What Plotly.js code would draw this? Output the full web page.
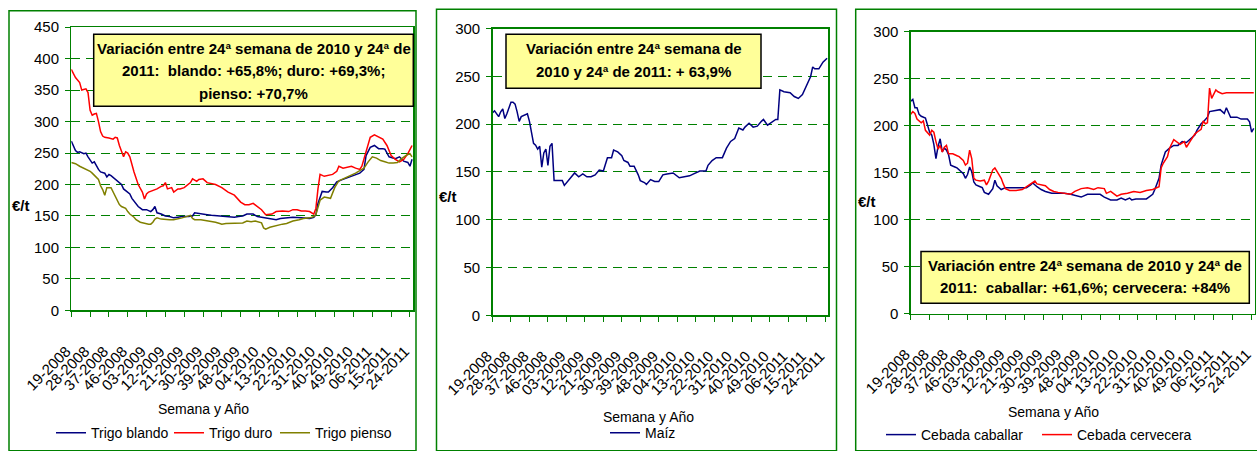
<!DOCTYPE html>
<html><head><meta charset="utf-8">
<script src="https://cdn.plot.ly/plotly-3.0.1.min.js"></script>
<style>html,body{margin:0;padding:0;background:#fff;overflow:hidden}#chart{width:1257px;height:451px}</style>
</head><body><div id="chart"></div>
<script>
// ---- tick labels (week-year), one every 9 weeks, week index counted from 19-2008 ----
const tickWeeks = [0,9,18,27,36,45,54,63,72,81,90,99,108,117,126,135,144,153,162];
const tickLabels = ["19-2008","28-2008","37-2008","46-2008","03-2009","12-2009","21-2009","30-2009","39-2009","48-2009","04-2010","13-2010","22-2010","31-2010","40-2010","49-2010","06-2011","15-2011","24-2011"];

// ---- Panel 1: trigo (€/t) ----
const blandoWeek = [0,1,2,3,4,6,7,8,9,10,11,12,13,14,16,17,18,19,20,22,24,25,27,28,29,31,32,34,36,38,39,40,41,43,45,47,49,51,53,56,58,59,62,65,67,70,72,74,76,78,80,82,84,87,89,92,95,98,100,102,106,110,114,116,117,118,119,120,122,123,125,127,129,132,135,137,138,139,140,141,143,145,147,149,150,152,155,157,159,161,162,163];
const blandoValue = [269,260,254,251,252,249,250,244,239,234,236,229,224,220,218,212,216,214,211,206,200,193,188,185,178,170,165,160,160,157,160,165,155,153,150,149,147,148,149,149,150,155,153,152,151,150,149,149,148,148,149,150,153,153,149,147,146,144,146,147,148,147,146,148,152,170,180,189,188,188,195,204,207,211,214,217,218,221,224,246,259,262,257,257,256,244,241,244,237,235,229,240];

const duroWeek = [0,1,2,4,5,7,8,9,10,11,12,13,14,15,16,18,20,21,22,23,24,25,26,27,28,29,30,32,34,35,36,37,39,41,43,44,45,46,48,49,51,52,54,56,57,58,60,61,63,65,67,69,72,75,78,81,83,85,87,89,91,93,96,98,101,104,106,108,110,112,114,116,117,118,119,121,123,125,127,128,130,132,134,136,138,139,141,143,145,147,149,151,153,155,157,159,161,163];
const duroValue = [383,375,370,362,350,352,346,318,310,312,313,300,284,277,275,274,272,275,274,262,254,244,252,250,244,230,220,200,188,177,185,188,190,193,197,198,203,193,195,188,193,193,195,200,203,209,205,208,209,203,202,200,195,188,183,172,168,168,170,165,160,152,153,157,158,157,160,160,158,158,157,153,162,193,216,213,214,216,221,229,226,227,229,226,224,229,254,275,279,276,272,262,246,240,236,240,249,262];

const piensoWeek = [0,2,4,6,8,9,10,12,13,14,15,16,17,19,20,21,23,24,26,27,28,30,31,33,35,37,38,39,40,41,43,45,47,49,51,53,55,57,58,59,62,64,67,69,71,72,74,77,80,82,84,86,88,90,91,92,93,95,97,99,101,103,106,109,111,114,116,117,118,119,121,123,124,126,128,130,133,136,138,140,142,144,146,148,150,152,154,156,158,160,162,163];
const piensoValue = [235,233,229,226,223,221,218,212,208,198,192,183,195,195,188,180,168,165,162,157,153,148,144,140,138,137,137,140,145,147,145,144,144,144,145,147,149,151,146,144,144,143,142,140,138,137,138,138,139,139,142,141,142,140,139,131,129,132,134,136,137,138,142,144,146,147,149,152,165,175,180,178,178,195,206,209,213,218,222,226,236,244,242,238,236,234,234,235,241,246,249,244];

// ---- Panel 2: maíz ----
const maizWeek = [0,1,3,4,5,6,7,8,9,10,11,12,13,14,15,17,18,19,20,21,22,23,24,25,26,27,28,29,30,32,34,35,37,39,40,42,43,44,46,48,50,52,54,55,56,58,59,61,63,64,66,67,69,71,72,74,75,77,79,81,83,85,88,91,93,96,98,101,104,105,107,109,112,114,116,118,120,122,123,125,127,129,131,132,134,136,138,139,140,142,145,147,149,151,153,155,156,157,159,161,163];
const maizValue = [212,214,208,213,216,206,211,218,223,223,221,213,203,208,209,211,203,192,180,178,174,177,155,170,174,157,177,180,141,141,141,136,141,147,149,145,147,148,145,145,147,152,151,157,165,165,173,171,167,162,160,156,156,147,141,139,137,142,140,140,147,148,149,144,145,146,148,151,151,157,162,165,165,175,182,185,196,194,197,201,197,198,203,205,199,202,205,205,236,234,233,229,227,231,240,250,260,258,258,265,269];

// ---- Panel 3: cebada ----
const caballarWeek = [0,1,2,3,4,5,7,8,9,10,11,12,13,14,15,16,17,18,19,21,22,24,25,26,27,28,29,30,31,33,34,35,37,39,40,41,43,45,48,52,55,57,58,60,62,64,67,70,73,76,79,81,84,87,90,92,95,98,100,102,104,105,107,110,112,115,116,118,119,120,121,123,125,127,129,131,132,135,136,138,139,141,142,145,147,149,150,152,155,157,160,161,162,163];
const caballarValue = [226,228,219,219,212,210,208,200,193,190,180,165,178,186,172,176,174,169,158,156,155,151,149,144,148,156,151,140,137,135,134,129,127,133,142,136,132,134,134,134,134,137,139,135,132,130,128,128,128,127,125,124,127,127,127,124,121,121,123,121,123,121,122,122,122,127,132,144,158,165,172,176,179,179,183,182,184,190,195,202,204,209,215,216,217,213,219,209,209,207,207,204,193,197];

const cerveceraWeek = [0,1,2,3,5,6,7,8,9,10,11,12,13,14,15,16,17,18,20,22,23,25,26,27,28,29,30,31,33,35,36,37,38,39,40,41,43,44,45,47,50,53,55,57,59,60,62,64,66,68,70,73,76,78,79,81,84,87,89,92,93,95,98,100,103,106,109,112,115,118,119,120,122,123,125,127,128,130,131,133,135,136,138,139,140,141,142,143,145,146,148,150,163];
const cerveceraValue = [212,215,213,207,203,205,195,193,190,195,193,183,175,179,172,177,179,170,170,168,167,163,158,160,174,165,144,142,141,142,137,141,147,153,155,151,144,138,133,131,131,132,135,138,141,138,137,136,132,130,129,128,127,130,131,133,134,132,134,133,128,130,125,127,128,130,129,131,132,135,155,160,167,176,185,181,180,183,177,184,191,193,196,205,202,203,240,229,238,236,234,235,235];

// ---- colours / text ----
const navy = "#000080", red = "#FF0000", olive = "#808000", green = "#008000";
const FONT = "Arial, 'Liberation Sans', sans-serif";
const W = 1257, H = 451;
const px = x => x / W;
const py = y => 1 - y / H;

// plot areas in page pixels
const areas = [
  {l:71.3, r:413.3, t:27.7, b:316.7, ymax:450},
  {l:492.5, r:828.3, t:29.3, b:321.7, ymax:300},
  {l:910.7, r:1255,  t:32.3, b:320.0, ymax:300}
];

function xa(a) {
  return {
    domain:[px(a.l), px(a.r)], range:[0,163.6],
    tickmode:"array", tickvals:tickWeeks, ticktext:tickLabels, tickangle:-45,
    ticks:"outside", ticklen:5, tickcolor:green, tickwidth:1,
    showline:true, linecolor:green, linewidth:1.3, mirror:true,
    showgrid:false, zeroline:false, ticklabelstandoff:20, ticklabelshift:-5,
    ticklabeloverflow:"allow",
    tickfont:{family:FONT, size:15, color:"#000"}
  };
}
function ya(a) {
  return {
    domain:[py(a.b), py(a.t)], range:[0,a.ymax],
    tickmode:"linear", tick0:0, dtick:50,
    ticks:"outside", ticklen:5, tickcolor:green, tickwidth:1,
    showline:true, linecolor:green, linewidth:1.3, mirror:true,
    showgrid:true, gridcolor:green, gridwidth:1, griddash:"9px,6px",
    zeroline:false, ticklabelstandoff:3,
    tickfont:{family:FONT, size:15, color:"#000"}
  };
}

const legendBase = (x, y) => ({orientation:"h", x:px(x), y:py(y), xanchor:"left", yanchor:"middle",
  font:{family:FONT,size:14,color:"#000"}, bgcolor:"rgba(0,0,0,0)", itemwidth:30});

const layout = {
  width:W, height:H, margin:{l:0,r:0,t:0,b:0},
  paper_bgcolor:"#fff", plot_bgcolor:"#fff", showlegend:true,
  xaxis: Object.assign(xa(areas[0]), {anchor:"y"}),
  yaxis: Object.assign(ya(areas[0]), {anchor:"x"}),
  xaxis2: Object.assign(xa(areas[1]), {anchor:"y2"}),
  yaxis2: Object.assign(ya(areas[1]), {anchor:"x2"}),
  xaxis3: Object.assign(xa(areas[2]), {anchor:"y3"}),
  yaxis3: Object.assign(ya(areas[2]), {anchor:"x3"}),
  legend:  legendBase(51, 442),
  legend2: legendBase(169, 442),
  legend3: legendBase(275, 442),
  legend4: legendBase(605, 442),
  legend5: legendBase(881, 444),
  legend6: legendBase(1037, 444),
  shapes: [
    // panel frames
    {type:"rect", xref:"paper", yref:"paper", x0:px(9), x1:px(416), y0:py(11), y1:py(460), line:{color:green,width:1.5}, layer:"below"},
    {type:"rect", xref:"paper", yref:"paper", x0:px(436.5), x1:px(836.5), y0:py(9.5), y1:py(460), line:{color:green,width:1.5}, layer:"below"},
    {type:"rect", xref:"paper", yref:"paper", x0:px(855.7), x1:px(1265), y0:py(9.5), y1:py(460), line:{color:green,width:1.5}, layer:"below"},
    // yellow notes
    {type:"rect", xref:"paper", yref:"paper", x0:px(93.7), x1:px(413.3), y0:py(35), y1:py(108.3), fillcolor:"#FFFF99", line:{color:"#000",width:1.5}, layer:"above"},
    {type:"rect", xref:"paper", yref:"paper", x0:px(506), x1:px(761), y0:py(35), y1:py(90), fillcolor:"#FFFF99", line:{color:"#000",width:1.5}, layer:"above"},
    {type:"rect", xref:"paper", yref:"paper", x0:px(921), x1:px(1249.3), y0:py(256.7), y1:py(309.3), fillcolor:"#FFFF99", line:{color:"#000",width:1.5}, layer:"above"}
  ],
  annotations: []
};

function note(text, x, y, size, bold) {
  layout.annotations.push({xref:"paper", yref:"paper", x:px(x), y:py(y), xanchor:"center", yanchor:"middle",
    showarrow:false, text: bold ? "<b>"+text+"</b>" : text, font:{family:FONT, size:size, color:"#000"}});
}
// note boxes
note("Variación entre 24ª semana de 2010 y 24ª de", 253.5, 49, 15, true);
note("2011:  blando: +65,8%; duro: +69,3%;", 253.5, 72, 15, true);
note("pienso: +70,7%", 253.5, 95, 15, true);
note("Variación entre 24ª semana de", 633.5, 49.5, 15, true);
note("2010 y 24ª de 2011: + 63,9%", 633.5, 72.5, 15, true);
note("Variación entre 24ª semana de 2010 y 24ª de", 1085, 270.5, 15, true);
note("2011:  caballar: +61,6%; cervecera: +84%", 1085, 293.5, 15, true);
// axis titles
note("€/t", 21, 210, 15, true);
note("€/t", 448, 200, 15, true);
note("€/t", 867, 206, 15, true);
note("Semana y Año", 203, 417, 14, false);
note("Semana y Año", 648, 425, 14, false);
note("Semana y Año", 1053, 420, 14, false);

const ln = (c) => ({color:c, width:1.5});
const data = [
  {x:blandoWeek, y:blandoValue, name:"Trigo blando", type:"scatter", mode:"lines", line:ln(navy), xaxis:"x", yaxis:"y", legend:"legend"},
  {x:duroWeek, y:duroValue, name:"Trigo duro", type:"scatter", mode:"lines", line:ln(red), xaxis:"x", yaxis:"y", legend:"legend2"},
  {x:piensoWeek, y:piensoValue, name:"Trigo pienso", type:"scatter", mode:"lines", line:ln(olive), xaxis:"x", yaxis:"y", legend:"legend3"},
  {x:maizWeek, y:maizValue, name:"Maíz", type:"scatter", mode:"lines", line:ln(navy), xaxis:"x2", yaxis:"y2", legend:"legend4"},
  {x:caballarWeek, y:caballarValue, name:"Cebada caballar", type:"scatter", mode:"lines", line:ln(navy), xaxis:"x3", yaxis:"y3", legend:"legend5"},
  {x:cerveceraWeek, y:cerveceraValue, name:"Cebada cervecera", type:"scatter", mode:"lines", line:ln(red), xaxis:"x3", yaxis:"y3", legend:"legend6"}
];

Plotly.newPlot("chart", data, layout, {staticPlot:true, displayModeBar:false});
</script>
</body></html>
